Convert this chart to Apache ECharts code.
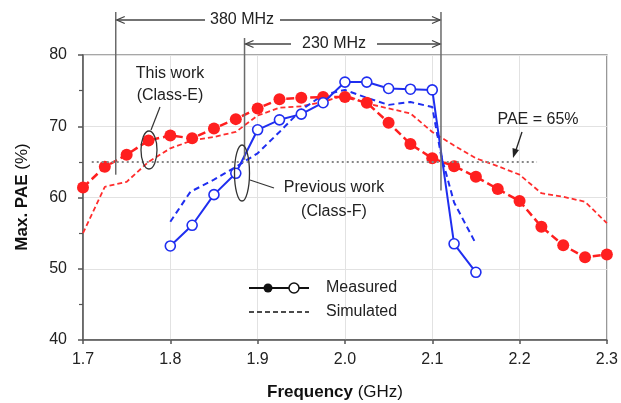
<!DOCTYPE html>
<html><head><meta charset="utf-8">
<script src="https://cdn.jsdelivr.net/npm/echarts@6/dist/echarts.min.js"></script>
<style>html,body{margin:0;padding:0;background:#fff}#c{width:621px;height:403px}</style>
</head><body><div id="c"></div>
<script>
// ---- data ----
const classEFreq = [1.700,1.725,1.750,1.775,1.800,1.825,1.850,1.875,1.900,1.925,1.950,1.975,2.000,2.025,2.050,2.075,2.100,2.125,2.150,2.175,2.200,2.225,2.250,2.275,2.300];
const classEMeasured = [61.4,64.3,66.0,68.0,68.7,68.3,69.7,71.0,72.5,73.8,74.0,74.1,74.1,73.3,70.5,67.5,65.5,64.4,62.9,61.2,59.5,55.9,53.3,51.6,52.0];
const classESimulated = [55.0,61.5,62.2,65.0,66.9,68.0,68.5,69.2,71.5,72.6,72.8,73.4,74.4,73.2,72.5,71.8,69.2,67.3,65.5,64.4,63.2,60.6,60.1,59.4,56.4];
const classFFreq = [1.800,1.825,1.850,1.875,1.900,1.925,1.950,1.975,2.000,2.025,2.050,2.075,2.100,2.125,2.150];
const classFMeasured = [53.2,56.1,60.4,63.4,69.5,70.9,71.7,73.3,76.2,76.2,75.3,75.2,75.1,53.5,49.5];
const classFSimFreq = [1.800,1.823,1.850,1.875,1.900,1.925,1.950,1.975,2.000,2.025,2.050,2.075,2.100,2.110,2.125,2.150];
const classFSimulated = [56.6,60.8,62.5,64.3,66.2,69.2,72.3,74.4,75.1,74.0,73.0,73.4,72.7,66.0,59.3,53.5];
const paeLevel = 65;
const paeLineRange = [1.71, 2.22];
const bw380 = [1.7375, 2.11];
const bw230 = [1.885, 2.11];

const FONT = "'Liberation Sans', Arial, sans-serif";
const RED = '#ff1f1f';
const BLUE = '#1f2ef0';

const zip = (xs, ys) => xs.map((x, i) => [x, ys[i]]);

const chart = echarts.init(document.getElementById('c'), null, {renderer: 'canvas'});
const option = {
  animation: false,
  backgroundColor: '#fff',
  grid: {left: 83, right: 10, top: 55, bottom: 63, show: true, borderColor: '#8a8a8a', borderWidth: 1.5, backgroundColor: 'transparent'},
  xAxis: {
    type: 'value', min: 1.7, max: 2.3, interval: 0.1,
    axisLine: {show: true, onZero: false, lineStyle: {color: '#555', width: 1.5}},
    axisTick: {show: true, length: 4, lineStyle: {color: '#555', width: 1.5}},
    axisLabel: {color: '#222', fontSize: 16, fontFamily: FONT, margin: 12, formatter: v => v.toFixed(1)},
    splitLine: {show: true, lineStyle: {color: '#e2e2e2', width: 1}}
  },
  yAxis: {
    type: 'value', min: 40, max: 80, interval: 10,
    axisLine: {show: true, onZero: false, lineStyle: {color: '#555', width: 1.5}},
    axisTick: {show: true, length: 5, lineStyle: {color: '#555', width: 1.5}},
    minorTick: {show: true, splitNumber: 2, length: 4, lineStyle: {color: '#555', width: 1.2}},
    axisLabel: {color: '#222', fontSize: 16, fontFamily: FONT, margin: 16},
    splitLine: {show: true, lineStyle: {color: '#e2e2e2', width: 1}}
  },
  series: [
    {
      name: 'Class-E simulated', type: 'line', data: zip(classEFreq, classESimulated),
      showSymbol: false, symbol: 'none', z: 2,
      lineStyle: {color: '#ff2d2d', width: 1.8, type: [5, 3]}
    },
    {
      name: 'Class-F simulated', type: 'line', data: zip(classFSimFreq, classFSimulated),
      showSymbol: false, symbol: 'none', z: 2,
      lineStyle: {color: BLUE, width: 2, type: [6, 4]}
    },
    {
      name: 'Class-E measured', type: 'line', data: zip(classEFreq, classEMeasured),
      symbol: 'circle', symbolSize: 12, z: 4,
      itemStyle: {color: RED, borderWidth: 0},
      lineStyle: {color: RED, width: 2.5, type: [8, 4]},
      markLine: {
        silent: true, symbol: 'none', label: {show: false},
        lineStyle: {color: '#888', type: [2, 3], width: 2},
        data: [[{coord: [paeLineRange[0], paeLevel]}, {coord: [paeLineRange[1], paeLevel]}]]
      }
    },
    {
      name: 'Class-F measured', type: 'line', data: zip(classFFreq, classFMeasured),
      symbol: 'circle', symbolSize: 10, z: 5,
      itemStyle: {color: '#fff', borderColor: BLUE, borderWidth: 1.6},
      lineStyle: {color: BLUE, width: 2}
    }
  ]
};
chart.setOption(option);

const px = (x, y) => chart.convertToPixel({gridIndex: 0}, [x, y]);
const G = [];
const ANN = '#6a6a6a';
function line(x1, y1, x2, y2, color, w, dash) {
  G.push({type: 'line', shape: {x1, y1, x2, y2}, style: {stroke: color, lineWidth: w, lineDash: dash || null}, z: 100});
}
function text(t, x, y, opts) {
  G.push(Object.assign({type: 'text', x, y, style: Object.assign({text: t, font: '16px ' + FONT, fill: '#222', align: 'center', verticalAlign: 'middle'}, opts || {})}, {z: 100}));
}
function openHead(x, y, dir) { // dir -1 left, +1 right
  G.push({type: 'polyline', shape: {points: [[x - dir * 8, y - 3.5], [x, y], [x - dir * 8, y + 3.5]]}, style: {stroke: '#444', lineWidth: 1.3, fill: null}, z: 100});
}

// dimension lines
const xa = px(bw380[0], 60)[0], xb = px(bw230[0], 60)[0], xc = px(bw380[1], 60)[0];
line(xa, 12, xa, px(0, 63.2)[1], ANN, 1.5);
line(xb, 38, xb, px(0, 65.3)[1], ANN, 1.5);
line(xc, 12, xc, px(0, 61.0)[1], ANN, 1.5);
// 380 MHz
const y1 = 20;
line(xa + 1, y1, 205, y1, '#444', 1.3); openHead(xa + 1, y1, -1);
line(280, y1, xc - 1, y1, '#444', 1.3); openHead(xc - 1, y1, 1);
text('380 MHz', 242, y1);
// 230 MHz
const y2 = 44;
line(xb + 1, y2, 291, y2, '#444', 1.3); openHead(xb + 1, y2, -1);
line(377, y2, xc - 1, y2, '#444', 1.3); openHead(xc - 1, y2, 1);
text('230 MHz', 334, y2);

// This work annotation
text('This work', 170, 74);
text('(Class-E)', 170, 96);
line(160, 107, 151, 130, '#333', 1.2);
G.push({type: 'ellipse', shape: {cx: 149, cy: 150, rx: 8, ry: 19}, style: {fill: null, stroke: '#333', lineWidth: 1.3}, z: 100});

// Previous work annotation
text('Previous work', 334, 188);
text('(Class-F)', 334, 212);
line(250, 180, 274, 188, '#333', 1.2);
G.push({type: 'ellipse', shape: {cx: 242, cy: 173, rx: 7.5, ry: 28}, style: {fill: null, stroke: '#333', lineWidth: 1.3}, z: 100});

// PAE = 65%
text('PAE = 65%', 538, 120);
line(522, 132, 516, 150, '#222', 1.3);
G.push({type: 'polygon', shape: {points: [[513, 158], [512.5, 148], [519, 150]]}, style: {fill: '#222'}, z: 100});

// legend
line(249, 288, 309, 288, '#111', 2);
G.push({type: 'circle', shape: {cx: 268, cy: 288, r: 4.5}, style: {fill: '#111'}, z: 101});
G.push({type: 'circle', shape: {cx: 294, cy: 288, r: 5}, style: {fill: '#fff', stroke: '#111', lineWidth: 1.5}, z: 101});
text('Measured', 326, 288, {align: 'left'});
line(249, 312, 309, 312, '#111', 1.6, [5, 3]);
text('Simulated', 326, 312, {align: 'left'});

// axis titles
G.push({type: 'text', x: 22, y: 197, rotation: Math.PI / 2, z: 100,
  style: {text: '{b|Max. PAE} (%)', font: '17px ' + FONT, fill: '#111', align: 'center', verticalAlign: 'middle',
    rich: {b: {font: 'bold 17px ' + FONT, fill: '#111'}}}});
G.push({type: 'text', x: 335, y: 392, z: 100,
  style: {text: '{b|Frequency} (GHz)', font: '17px ' + FONT, fill: '#111', align: 'center', verticalAlign: 'middle',
    rich: {b: {font: 'bold 17px ' + FONT, fill: '#111'}}}});

chart.setOption({graphic: G});
</script></body></html>
